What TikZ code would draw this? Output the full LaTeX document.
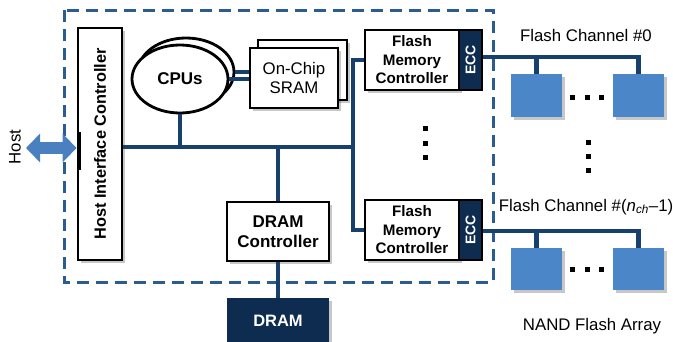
\documentclass[tikz,border=0pt]{standalone}
\usepackage{fontspec}
\setmainfont{Liberation Sans}
\usetikzlibrary{arrows.meta,shadows,shapes.geometric}
\definecolor{navy}{HTML}{17406D}
\definecolor{darknavy}{HTML}{0E2B50}
\definecolor{flashblue}{HTML}{4A86C8}
\definecolor{hostblue}{HTML}{4A80C0}
\definecolor{dashblue}{HTML}{2B5C91}
\begin{document}
\begin{tikzpicture}[x=1pt,y=-1pt,
  mysh/.style={drop shadow={shadow xshift=2.5pt,shadow yshift=-2.5pt,fill=black,opacity=0.22}},
  box/.style={draw=black,line width=2.8pt,fill=white,inner sep=0pt,align=center,mysh},
  darkbox/.style={draw=black,line width=2.8pt,fill=darknavy,inner sep=0pt,align=center,text=white},
  flashbox/.style={fill=flashblue,draw=none,inner sep=0pt,minimum width=51pt,minimum height=43pt,mysh},
  bus/.style={draw=navy,line width=4.5pt},
  dotsq/.style={fill=black,draw=none,inner sep=0pt,minimum size=5pt},
  regtext/.style={font=\fontsize{16.8}{19}\selectfont,inner sep=0pt,align=center},
  bigbold/.style={font=\fontsize{17}{20}\selectfont\bfseries},
  fmcbold/.style={font=\fontsize{15.2}{18.5}\selectfont\bfseries},
  ecctext/.style={font=\fontsize{14}{16}\selectfont\bfseries,text=white,inner sep=0pt}]
\useasboundingbox (0,0) rectangle (673,341);

% SSD boundary
\draw[dashblue,line width=3pt,dash pattern=on 12pt off 7pt] (64,10) rectangle (493,282);

% Host interface controller
\node[box,minimum width=44pt,minimum height=232pt] (hic) at (100,144) {};
\node[rotate=90,font=\fontsize{16.3}{19}\selectfont\bfseries,inner sep=0pt] (hictext) at (hic.center) {Host Interface Controller};
\draw[black,line width=4.5pt] (79,132) -- (79,170);

% Host arrow
\node[rotate=90,regtext] (host) at (15,147) {Host};
\coordinate (hostend) at (26,148);
\draw[hostblue,line width=12pt,{Triangle[length=14pt,width=28pt]}-{Triangle[length=14pt,width=28pt]}]
  (hostend) -- (hic.west |- hostend);

% CPUs
\node[draw=black,line width=2.8pt,fill=white,ellipse,minimum width=96pt,minimum height=68pt,inner sep=0pt] (cpuback) at (186,72) {};
\node[draw=black,line width=2.8pt,fill=white,ellipse,minimum width=96pt,minimum height=68pt,inner sep=0pt,bigbold] (cpu) at (180,79) {CPUs};

% SRAM
\node[box,minimum width=89pt,minimum height=60pt] (sramback) at (302.5,70) {};
\node[box,minimum width=88pt,minimum height=60pt,regtext] (sram) at (294,78) {On-Chip\\SRAM};

\draw[bus] (cpuback.east) -- (sram.west |- cpuback.east);
\draw[bus] (cpu.east) -- (sram.west |- cpu.east);

% Flash memory controllers
\node[box,minimum width=94pt,minimum height=60pt,fmcbold] (fmc1) at (412,60) {Flash\\Memory\\Controller};
\node[darkbox,minimum width=23pt,minimum height=60pt] (ecc1) at (470.5,60) {};
\node[rotate=90,ecctext] (ecc1t) at (ecc1.center) {ECC};
\node[box,minimum width=94pt,minimum height=60pt,fmcbold] (fmc2) at (412,230) {Flash\\Memory\\Controller};
\node[darkbox,minimum width=23pt,minimum height=60pt] (ecc2) at (470.5,230) {};
\node[rotate=90,ecctext] (ecc2t) at (ecc2.center) {ECC};

% DRAM
\node[box,minimum width=102pt,minimum height=59pt,bigbold] (dramc) at (278,231.5) {DRAM\\Controller};
\node[fill=darknavy,draw=none,inner sep=0pt,minimum width=102pt,minimum height=46pt,mysh] (dram) at (278,321) {};
\node[text=white,font=\fontsize{16.5}{19}\selectfont\bfseries,inner sep=0pt] (dramt) at (278,321) {DRAM};

% Bus
\coordinate (busy) at (0,147);
\coordinate (vx) at (353,147);
\draw[bus] (hic.east |- busy) -- (vx);
\draw[bus] (cpu.south) -- (cpu.south |- busy);
\draw[bus] (fmc1.west) -| (vx) |- (fmc2.west);
\draw[bus] (dramc.north |- busy) -- (dramc.north);
\draw[bus] (dramc.south) -- (dram.north);

% Flash arrays
\node[flashbox] (f01) at (536.5,95.5) {};
\node[flashbox] (f02) at (638.5,95.5) {};
\node[flashbox,minimum height=42pt] (f11) at (536.5,269) {};
\node[flashbox,minimum height=42pt] (f12) at (638.5,269) {};

\coordinate (ch0) at (0,57);
\coordinate (ch1) at (0,231);
\draw[bus] (ecc1.east |- ch0) -| (f02.north);
\draw[bus] (f01.north |- ch0) -- (f01.north);
\draw[bus] (ecc2.east |- ch1) -| (f12.north);
\draw[bus] (f11.north |- ch1) -- (f11.north);

% dots
\foreach \i/\x in {1/572,2/587,3/601}{
  \node[dotsq] (dta\i) at (\x,97) {};
  \node[dotsq] (dtb\i) at (\x,269) {};
}
\foreach \i/\y in {1/128,2/143,3/157}{
  \node[dotsq] (dtc\i) at (425,\y) {};
}
\foreach \i/\y in {1/142,2/156,3/170}{
  \node[dotsq] (dtd\i) at (588,\y) {};
}

% labels
\node[regtext] (lch0) at (586,35) {Flash Channel \#0};
\node[regtext] (lch1) at (586,207) {Flash Channel \#(\textit{n}\textsubscript{\itshape ch}–1)};
\node[regtext] (lnand) at (592,326) {NAND Flash Array};
\end{tikzpicture}
\end{document}
